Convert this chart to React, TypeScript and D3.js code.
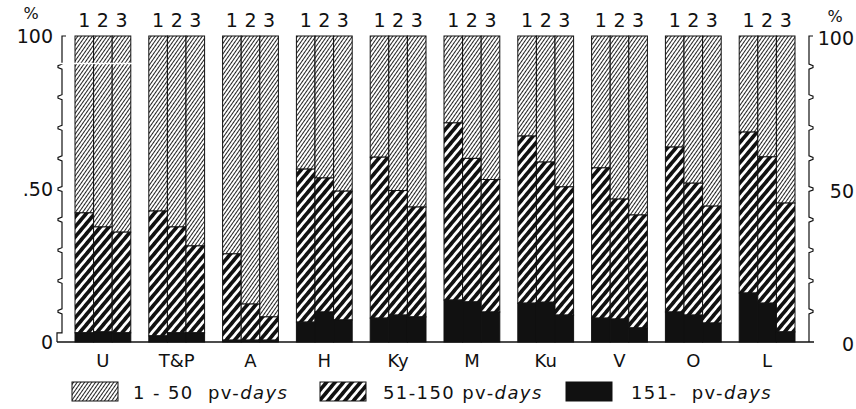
import React from "react";
import * as d3 from "d3";

const categories = ["U", "T&P", "A", "H", "Ky", "M", "Ku", "V", "O", "L"];
const columns = ["1", "2", "3"];
const legendLabels = ["1 - 50  pv-", "51-150 pv-", "151-  pv-"];

// share (%) of each class, per category, for columns 1,2,3
const short1to50 = [
  [57.8, 62.4, 64.1], [57.2, 62.4, 68.6], [71.2, 87.6, 91.8], [43.5, 46.4, 50.7],
  [39.6, 50.5, 55.9], [28.4, 40.0, 46.9], [32.7, 41.2, 49.3], [43.1, 53.3, 58.5],
  [36.3, 48.1, 55.6], [31.4, 39.5, 54.6],
];
const mid51to150 = [
  [39.2, 34.3, 32.9], [40.8, 34.6, 28.4], [28.2, 11.8, 7.6], [50.0, 43.8, 42.1],
  [52.6, 40.7, 35.9], [57.9, 46.9, 43.3], [54.6, 45.8, 41.9], [49.1, 39.2, 36.9],
  [53.9, 43.1, 38.2], [52.6, 47.8, 42.1],
];
const long151 = [
  [3.0, 3.3, 3.0], [2.0, 3.0, 3.0], [0.6, 0.6, 0.6], [6.5, 9.8, 7.2],
  [7.8, 8.8, 8.2], [13.7, 13.1, 9.8], [12.7, 13.0, 8.8], [7.8, 7.5, 4.6],
  [9.8, 8.8, 6.2], [16.0, 12.7, 3.3],
];
const leftTicks = [
  { v: 100, t: "100" },
  { v: 50, t: ".50" },
  { v: 0, t: "0" },
];
const rightTicks = [
  { v: 100, t: "100" },
  { v: 50, t: "50" },
  { v: 0, t: "0" },
];

const FONT = "'DejaVu Sans', sans-serif";

export default function App() {
  const W = 856, H = 409;
  const y = d3.scaleLinear().domain([0, 100]).range([342, 36]);
  const x = d3.scaleBand().domain(categories).range([75, 795]).paddingInner(0.244).paddingOuter(0);
  const xi = d3.scaleBand().domain(columns).range([0, x.bandwidth()]).padding(0);

  const fills = ["url(#light)", "url(#heavy)", "#111"];

  const bars: JSX.Element[] = [];
  categories.forEach((c, ci) => {
    columns.forEach((col, k) => {
      const bx = (x(c) as number) + (xi(col) as number);
      const bw = xi.bandwidth();
      const b = long151[ci][k];
      const m = mid51to150[ci][k];
      const s = short1to50[ci][k];
      const segs = [
        { y0: b + m, y1: b + m + s, f: fills[0] },
        { y0: b, y1: b + m, f: fills[1] },
        { y0: 0, y1: b, f: fills[2] },
      ];
      segs.forEach((sg, si) => {
        bars.push(
          <rect key={`${c}-${col}-${si}`} x={bx} y={y(sg.y1)} width={bw}
            height={y(sg.y0) - y(sg.y1)} fill={sg.f} stroke="#111" strokeWidth={1} />
        );
      });
    });
  });

  // left brace axis
  const lp = d3.path();
  const lx = 62;
  lp.moveTo(lx + 4, y(100));
  lp.lineTo(lx, y(100));
  d3.range(90, 0, -10).forEach((v) => {
    const yy = y(v);
    lp.lineTo(lx, yy - 2.5);
    lp.lineTo(lx - 4, yy - 1);
    lp.lineTo(lx - 4, yy + 1);
    lp.lineTo(lx, yy + 2.5);
  });
  lp.lineTo(lx, y(3));
  lp.lineTo(lx - 5, y(3));
  lp.lineTo(lx - 5, y(0));

  const rp = d3.path();
  const rx = 809;
  rp.moveTo(rx + 4, y(100));
  rp.lineTo(rx, y(100));
  d3.range(90, 0, -10).forEach((v) => {
    const yy = y(v);
    rp.lineTo(rx, yy - 2.5);
    rp.lineTo(rx + 4, yy - 1);
    rp.lineTo(rx + 4, yy + 1);
    rp.lineTo(rx, yy + 2.5);
  });
  rp.lineTo(rx, y(0));

  const legendItems = [
    { sx: 72, tx: 133, f: fills[0] },
    { sx: 320, tx: 383, f: fills[1] },
    { sx: 566, tx: 631, f: fills[2] },
  ];

  return (
    <svg width={W} height={H} style={{ display: "block", position: "absolute", left: 0, top: 0 }}
      fontFamily={FONT}>
      <defs>
        <pattern id="light" patternUnits="userSpaceOnUse" width={3} height={10}
          patternTransform="rotate(35)">
          <rect x={0} y={0} width={3} height={10} fill="#fff" />
          <line x1={0.5} y1={0} x2={0.5} y2={10} stroke="#222" strokeWidth={1} />
        </pattern>
        <pattern id="heavy" patternUnits="userSpaceOnUse" width={6.5} height={10}
          patternTransform="rotate(40)">
          <rect x={0} y={0} width={6.5} height={10} fill="#fff" />
          <rect x={0} y={0} width={3.7} height={10} fill="#111" />
        </pattern>
      </defs>
      <rect width={W} height={H} fill="#fff" />
      {bars}
      {/* column numbers */}
      {categories.map((c) =>
        columns.map((col) => (
          <text key={`n-${c}-${col}`} x={(x(c) as number) + (xi(col) as number) + xi.bandwidth() / 2}
            y={27} textAnchor="middle" fontSize={19} fill="#111">{col}</text>
        ))
      )}
      {/* category labels */}
      {categories.map((c) => (
        <text key={`c-${c}`} x={(x(c) as number) + x.bandwidth() / 2} y={367}
          textAnchor="middle" fontSize={18} fill="#111">{c}</text>
      ))}
      {/* axes */}
      <path d={lp.toString()} fill="none" stroke="#111" strokeWidth={1.2} />
      <path d={rp.toString()} fill="none" stroke="#111" strokeWidth={1.2} />
      <line x1={57} x2={814} y1={y(0)} y2={y(0)} stroke="#111" strokeWidth={1.6} />
      {/* scan artifact white line */}
      <line x1={58} x2={132} y1={63.5} y2={63.5} stroke="#fff" strokeWidth={1.5} />
      <text x={31} y={19} textAnchor="middle" fontSize={16} fill="#111">%</text>
      {leftTicks.map((t) => (
        <text key={`lt-${t.v}`} x={53} y={y(t.v) + 7} textAnchor="end" fontSize={19} fill="#111">{t.t}</text>
      ))}
      <text x={835} y={22} textAnchor="middle" fontSize={16} fill="#111">%</text>
      {rightTicks.map((t) => (
        <text key={`rt-${t.v}`} x={854} y={y(t.v) + 9} textAnchor="end" fontSize={19} fill="#111">{t.t}</text>
      ))}
      {/* legend */}
      {legendItems.map((it, i) => (
        <g key={`lg-${i}`}>
          <rect x={it.sx} y={382} width={46} height={19} fill={it.f} stroke="#111" strokeWidth={1} />
          <text x={it.tx} y={399} fontSize={18} letterSpacing={1.4} fill="#111" style={{ whiteSpace: "pre" }}>
            {legendLabels[i]}<tspan fontStyle="italic">days</tspan>
          </text>
        </g>
      ))}
    </svg>
  );
}
